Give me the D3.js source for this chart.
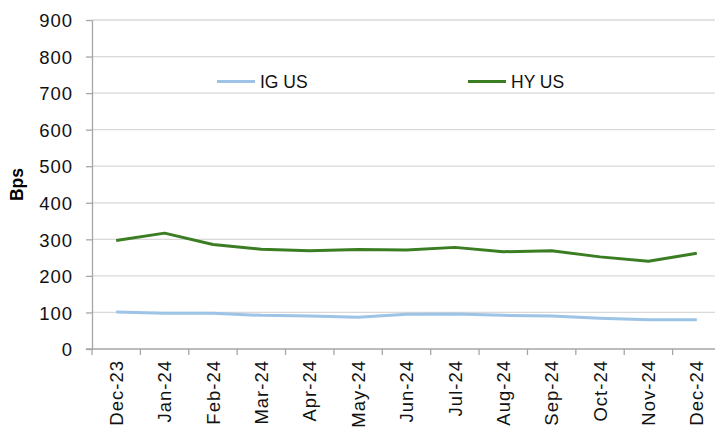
<!DOCTYPE html>
<html lang="en">
<head>
<meta charset="utf-8" />
<title>IG US / HY US spreads</title>
<style>
  body { margin: 0; background: #fff; }
  svg { display: block; font-family: "Liberation Sans", Arial, sans-serif; }
  .grid line { stroke: #d9d9d9; stroke-width: 1.3px; }
  .axis path, .axis line { stroke: #a6a6a6; stroke-width: 1.3px; }
  .axis text { fill: #111; font-size: 18.5px; letter-spacing: 1px; }
  .line { fill: none; stroke-width: 3px; stroke-linejoin: round; }
  .legend text { font-size: 17.5px; fill: #111; }
</style>
<script src="https://cdn.jsdelivr.net/npm/d3@7/dist/d3.min.js"></script>
</head>
<body>
<div id="chart"></div>
<script>
// data
var months = ["Dec-23", "Jan-24", "Feb-24", "Mar-24", "Apr-24", "May-24", "Jun-24",
              "Jul-24", "Aug-24", "Sep-24", "Oct-24", "Nov-24", "Dec-24"];
var igUS = [101, 98, 98, 92, 90, 87, 95, 96, 92, 90, 84, 80, 80];
var hyUS = [297, 317, 286, 273, 269, 272, 271, 278, 266, 269, 252, 240, 262];
var yTicks = [0, 100, 200, 300, 400, 500, 600, 700, 800, 900];

var width = 715, height = 427;
var margin = {top: 20, left: 92, bottom: 78};

var svg = d3.select("#chart").append("svg")
    .attr("width", width)
    .attr("height", height);

// scales
var x = d3.scaleBand().domain(months).range([margin.left, 721]);
var y = d3.scaleLinear().domain([0, 900]).range([height - margin.bottom, margin.top]);

// horizontal gridlines
svg.append("g")
    .attr("class", "grid")
    .selectAll("line")
    .data(yTicks.slice(1))
    .enter().append("line")
    .attr("x1", margin.left)
    .attr("x2", width)
    .attr("y1", function(d) { return y(d); })
    .attr("y2", function(d) { return y(d); });

// y axis
var yAxis = svg.append("g")
    .attr("class", "axis")
    .attr("transform", "translate(" + margin.left + ",0)")
    .call(d3.axisLeft(y).tickValues(yTicks).tickSize(6).tickPadding(13).tickSizeOuter(0));
yAxis.selectAll("text").attr("dy", "0.36em");

// x axis
var xAxis = svg.append("g")
    .attr("class", "axis")
    .attr("transform", "translate(0," + y(0) + ")")
    .call(d3.axisBottom(x).tickSize(0).tickSizeOuter(0));
xAxis.select(".domain").attr("d", "M" + (margin.left - 6) + ",0H" + width);
// ticks on the band edges
xAxis.selectAll(".edge")
    .data(months)
    .enter().append("line")
    .attr("class", "edge")
    .attr("x1", function(d) { return x(d); })
    .attr("x2", function(d) { return x(d); })
    .attr("y1", 0)
    .attr("y2", 6);
xAxis.selectAll(".tick text")
    .attr("transform", "translate(0,11) rotate(-90)")
    .attr("text-anchor", "end")
    .attr("x", 0)
    .attr("y", 0)
    .attr("dy", "0.36em");

// y axis title
svg.append("text")
    .attr("transform", "translate(17," + y(450) + ") rotate(-90)")
    .attr("text-anchor", "middle")
    .attr("dy", "0.36em")
    .style("font-size", "17.5px")
    .style("font-weight", "bold")
    .text("Bps");

// lines
var series = [
  {name: "IG US", values: igUS, color: "#9dc3e6"},
  {name: "HY US", values: hyUS, color: "#3b7d23"}
];

var line = d3.line()
    .x(function(d, i) { return x(months[i]) + x.bandwidth() / 2; })
    .y(function(d) { return y(d); });

series.forEach(function(s) {
  svg.append("path")
      .datum(s.values)
      .attr("class", "line")
      .style("stroke", s.color)
      .attr("d", line);
});

// legend
var legendX = [217, 468];
var legend = svg.append("g").attr("class", "legend");
series.forEach(function(s, i) {
  legend.append("line")
      .attr("x1", legendX[i]).attr("x2", legendX[i] + 38)
      .attr("y1", 81.5).attr("y2", 81.5)
      .style("stroke", s.color)
      .style("stroke-width", 3);
  legend.append("text")
      .attr("x", legendX[i] + 43)
      .attr("y", 81.5)
      .attr("dy", "0.36em")
      .text(s.name);
});
</script>
</body>
</html>
